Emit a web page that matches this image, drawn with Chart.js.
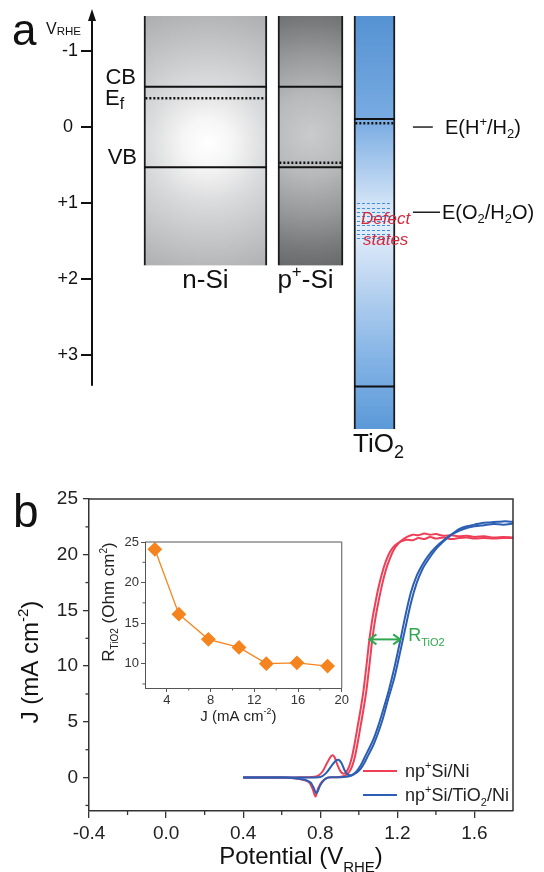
<!DOCTYPE html>
<html><head><meta charset="utf-8">
<script src="https://cdn.jsdelivr.net/npm/chart.js@4.4.1/dist/chart.umd.min.js"></script>
<style>
html,body{margin:0;padding:0;background:#fff;}
#wrap{position:relative;width:544px;height:872px;overflow:hidden;background:#fff;}
canvas{position:absolute;}
#ca{left:0;top:0;}
#cb{left:0;top:460px;}
#ci{left:90px;top:525px;}
</style></head><body>
<div id="wrap">
<canvas id="ca" width="544" height="460" style="width:544px;height:460px"></canvas>
<canvas id="cb" width="544" height="412" style="width:544px;height:412px"></canvas>
<canvas id="ci" width="260" height="205" style="width:260px;height:205px"></canvas>
</div>
<script>
// ---------------- DATA ----------------
// Panel a : band diagram (V vs RHE)
const materials = ['n-Si', 'p⁺-Si', 'TiO₂'];
const bandTop = [-1.46, -1.46, -1.46];
const bandBottom = [1.82, 1.82, 3.97];
const cbLevel = [-0.53, -0.53, -0.105];
const vbLevel = [0.53, 0.53, 3.41];
const fermiLevel = [-0.38, 0.47, -0.05];
const redoxLabels = ['E(H⁺/H₂)', 'E(O₂/H₂O)'];
const redoxLevels = [0.0, 1.12];
const defectStates = [1.0, 1.52];
const energyTicks = [-1, 0, 1, 2, 3];
const energyTickLabels = ['-1', '0 ', '+1', '+2', '+3'];
const energyAxisEnd = 3.4;

// Panel b : LSV curves
const redFwdV = [0.40,0.50,0.60,0.70,0.78,0.81,0.835,0.855,0.865,0.875,0.89,0.905,0.92,0.935,0.95,0.965,0.98,0.995,1.01,1.025,1.04,1.055,1.07,1.085,1.10,1.12,1.14,1.16,1.18,1.20,1.22,1.25,1.28,1.31,1.34,1.37,1.40,1.44,1.48,1.52,1.56,1.60,1.65,1.70,1.75,1.80];
const redFwdJ = [0,0,0,0.02,0.1,0.5,1.3,1.9,2.0,1.8,1.1,0.55,0.35,0.5,1.0,1.9,3.2,4.7,6.2,7.9,10.1,12.4,14.2,15.6,16.9,18.3,19.4,20.2,20.7,21.0,21.2,21.35,21.3,21.5,21.4,21.6,21.45,21.55,21.4,21.5,21.55,21.45,21.5,21.45,21.5,21.5];
const redRevV = [1.80,1.75,1.70,1.65,1.60,1.56,1.52,1.48,1.44,1.40,1.37,1.34,1.31,1.28,1.25,1.22,1.20,1.18,1.16,1.14,1.12,1.10,1.085,1.07,1.055,1.04,1.025,1.01,0.995,0.98,0.965,0.95,0.935,0.92,0.90,0.87,0.84,0.81,0.79,0.775,0.76,0.74,0.70,0.65,0.60,0.50,0.40];
const redRevJ = [21.55,21.6,21.55,21.65,21.6,21.7,21.65,21.75,21.7,21.85,21.8,21.9,21.75,21.8,21.6,21.25,20.9,20.4,19.6,18.6,17.25,15.6,14.2,12.4,10.1,7.9,6.2,4.7,3.2,1.9,1.0,0.5,0.25,0.12,0.06,0.03,0.0,-0.35,-0.9,-1.7,-1.0,-0.4,-0.15,-0.05,0,0,0];
const blueFwdV = [0.40,0.50,0.60,0.70,0.80,0.83,0.86,0.88,0.895,0.91,0.925,0.94,0.955,0.97,0.99,1.01,1.03,1.05,1.075,1.10,1.125,1.155,1.185,1.215,1.24,1.27,1.30,1.33,1.36,1.40,1.44,1.48,1.52,1.56,1.60,1.65,1.70,1.75,1.80];
const blueFwdJ = [0,0,0,0,0.05,0.4,1.1,1.5,1.6,1.3,0.7,0.3,0.2,0.3,0.6,1.1,1.8,2.5,3.4,4.6,6.0,7.8,9.9,12.3,14.4,16.6,18.1,19.1,19.9,20.7,21.3,21.8,22.15,22.4,22.55,22.65,22.75,22.7,22.8];
const blueRevV = [1.80,1.76,1.72,1.68,1.64,1.60,1.56,1.52,1.48,1.44,1.40,1.36,1.33,1.30,1.27,1.24,1.215,1.185,1.155,1.125,1.10,1.075,1.05,1.03,1.01,0.99,0.97,0.95,0.92,0.88,0.84,0.82,0.80,0.78,0.765,0.75,0.72,0.68,0.62,0.50,0.40];
const blueRevJ = [22.95,23.0,22.95,22.9,22.85,22.7,22.55,22.3,21.8,21.2,20.5,19.55,18.7,17.45,15.65,13.3,11.3,9.0,7.2,5.3,4.0,2.9,2.05,1.35,0.8,0.45,0.25,0.12,0.05,0.02,0,-0.2,-0.7,-1.4,-0.9,-0.45,-0.2,-0.08,0,0,0];
const seriesLabels = ['np⁺Si/Ni', 'np⁺Si/TiO₂/Ni'];
const potentialTicks = [-0.4, 0.0, 0.4, 0.8, 1.2, 1.6];
const potentialMinorTicks = [-0.2, 0.2, 0.6, 1.0, 1.4];
const currentTicks = [0, 5, 10, 15, 20, 25];
const currentMinorTicks = [-2.5, 2.5, 7.5, 12.5, 17.5, 22.5];
const rTiO2Arrow = {from: 1.055, to: 1.215, j: 12.4};

// Inset : R_TiO2 vs J
const insetJ = [2.9, 5.1, 7.8, 10.6, 13.1, 15.9, 18.7];
const insetR = [24.1, 16.1, 13.0, 12.0, 10.0, 10.1, 9.7];
const insetJTicks = [4, 8, 12, 16, 20];
const insetJMinor = [6, 10, 14, 18];
const insetRTicks = [10, 15, 20, 25];
const insetRMinor = [7.5, 12.5, 17.5, 22.5];

// ---------------- helpers ----------------
const FONT = '"Liberation Sans", Arial, Helvetica, sans-serif';
function fontStr(p){ return (p.italic ? 'italic ' : '') + p.size + 'px ' + FONT; }
function richWidth(ctx, parts){ let w = 0; for (const p of parts){ ctx.font = fontStr(p); w += ctx.measureText(p.t).width; } return w; }
function drawRich(ctx, x, y, parts, align, color){
  ctx.save();
  ctx.fillStyle = color || '#111'; ctx.textBaseline = 'alphabetic'; ctx.textAlign = 'left';
  const w = richWidth(ctx, parts);
  let cx = align === 'center' ? x - w / 2 : (align === 'right' ? x - w : x);
  for (const p of parts){ ctx.font = fontStr(p); ctx.fillText(p.t, cx, y + (p.dy || 0)); cx += ctx.measureText(p.t).width; }
  ctx.restore();
}
Chart.defaults.font.family = FONT;

// ---------------- Panel a ----------------
// layout columns (x units 0..100 across the drawing width)
const colLeft = [11.5, 41.15, 57.96];
const colRight = [38.7, 55.53, 67.04];
const redoxLineLeft = [71.0, 71.0];
const redoxLineRight = [75.4, 77.0];
const PXU_A = (544 - 92) / 100;

function boxFill(chart, i){
  const area = chart.chartArea; if (!area) return '#cccccc';
  const xs = chart.scales.x, ys = chart.scales.y, ctx = chart.ctx;
  const l = xs.getPixelForValue(colLeft[i]), r = xs.getPixelForValue(colRight[i]);
  const t = ys.getPixelForValue(bandTop[i]), b = ys.getPixelForValue(bandBottom[i]);
  let g;
  if (i === 0){
    const cx = (l + r) / 2 + 2, cy = ys.getPixelForValue(0.21);
    g = ctx.createRadialGradient(cx, cy, 0, cx, cy, 150);
    g.addColorStop(0, '#ffffff'); g.addColorStop(0.16, '#f6f6f6'); g.addColorStop(0.4, '#dadbdc');
    g.addColorStop(0.8, '#b7b9bb'); g.addColorStop(1, '#a6a8aa');
  } else if (i === 1){
    const cx = (l + r) / 2, cy = ys.getPixelForValue(0.1);
    g = ctx.createRadialGradient(cx, cy, 0, cx, cy, 135);
    g.addColorStop(0, '#cacbcc'); g.addColorStop(0.3, '#b8b9ba'); g.addColorStop(0.6, '#97989a');
    g.addColorStop(0.85, '#77787a'); g.addColorStop(1, '#68696b');
  } else {
    g = ctx.createLinearGradient(0, t, 0, b);
    g.addColorStop(0, '#5592d2'); g.addColorStop(0.25, '#78abe2'); g.addColorStop(0.5, '#e6f0fb');
    g.addColorStop(0.62, '#c4daf3'); g.addColorStop(0.82, '#86b5e6'); g.addColorStop(1, '#5b99d8');
  }
  return g;
}
const dsA = [];
materials.forEach((m, i) => {
  dsA.push({type: 'bar', label: m,
    data: [{x: (colLeft[i] + colRight[i]) / 2, y: [bandTop[i], bandBottom[i]]}],
    barThickness: (colRight[i] - colLeft[i]) * PXU_A, grouped: false,
    backgroundColor: c => boxFill(c.chart, i), borderColor: '#1a1a1a',
    borderWidth: {left: 2, right: 2, top: 0, bottom: 0}, borderSkipped: false, order: 3, clip: false});
});
function levelLine(x0, x1, v, dash, w, col){
  return {type: 'line', data: [{x: x0, y: v}, {x: x1, y: v}], borderColor: col || '#111', borderWidth: w,
    borderDash: dash, pointRadius: 0, order: 1, clip: false, fill: false, tension: 0};
}
materials.forEach((m, i) => {
  dsA.push(levelLine(colLeft[i], colRight[i], cbLevel[i], [], 2));
  dsA.push(levelLine(colLeft[i], colRight[i], vbLevel[i], [], 2));
  dsA.push(levelLine(colLeft[i] + 0.3, colRight[i] - 0.3, fermiLevel[i], [2, 2], 2.5));
});
redoxLevels.forEach((v, i) => dsA.push(levelLine(redoxLineLeft[i], redoxLineRight[i], v, [], 1.5, '#222')));

const pluginA = {
  id: 'panelA',
  afterDatasetsDraw(chart){
    const ctx = chart.ctx, xs = chart.scales.x, ys = chart.scales.y;
    const l = xs.getPixelForValue(colLeft[2]) + 3, r = xs.getPixelForValue(colRight[2]) - 3;
    ctx.save(); ctx.strokeStyle = '#3f8fd8'; ctx.lineWidth = 1; ctx.setLineDash([3, 2]);
    for (let v = defectStates[0]; v <= defectStates[1] + 1e-6; v += 0.058){
      const y = Math.round(ys.getPixelForValue(v)) + 0.5;
      ctx.beginPath(); ctx.moveTo(l, y); ctx.lineTo(r, y); ctx.stroke();
    }
    ctx.restore();
  },
  afterDraw(chart){
    const ctx = chart.ctx, xs = chart.scales.x, ys = chart.scales.y, a = chart.chartArea;
    // vertical axis with arrow
    ctx.save(); ctx.strokeStyle = '#111'; ctx.fillStyle = '#111'; ctx.lineWidth = 2;
    const ax = a.left;
    ctx.beginPath(); ctx.moveTo(ax, ys.getPixelForValue(energyAxisEnd)); ctx.lineTo(ax, a.top - 2); ctx.stroke();
    ctx.beginPath(); ctx.moveTo(ax, a.top - 7); ctx.lineTo(ax - 4, a.top + 5); ctx.lineTo(ax + 4, a.top + 5); ctx.closePath(); ctx.fill();
    ctx.restore();
    drawRich(ctx, 12, 45, [{t: 'a', size: 44}]);
    drawRich(ctx, 46, 34, [{t: 'V', size: 16}, {t: 'RHE', size: 11.5, dy: 1}]);
    const nl = xs.getPixelForValue(colLeft[0]);
    drawRich(ctx, nl - 8, ys.getPixelForValue(cbLevel[0]) - 3, [{t: 'CB', size: 22}], 'right');
    drawRich(ctx, 105, ys.getPixelForValue(fermiLevel[0]) + 7, [{t: 'E', size: 22}, {t: 'f', size: 16, dy: 4}]);
    drawRich(ctx, nl - 7, ys.getPixelForValue(vbLevel[0]) - 3, [{t: 'VB', size: 22}], 'right');
    const bl = ys.getPixelForValue(bandBottom[0]);
    drawRich(ctx, (xs.getPixelForValue(colLeft[0]) + xs.getPixelForValue(colRight[0])) / 2, bl + 23, [{t: 'n-Si', size: 26}], 'center');
    drawRich(ctx, (xs.getPixelForValue(colLeft[1]) + xs.getPixelForValue(colRight[1])) / 2 - 5, bl + 23,
      [{t: 'p', size: 26}, {t: '+', size: 17, dy: -11}, {t: '-Si', size: 26}], 'center');
    drawRich(ctx, (xs.getPixelForValue(colLeft[2]) + xs.getPixelForValue(colRight[2])) / 2 + 4, ys.getPixelForValue(bandBottom[2]) + 23,
      [{t: 'TiO', size: 26}, {t: '2', size: 18, dy: 6}], 'center');
    drawRich(ctx, 445, ys.getPixelForValue(redoxLevels[0]) + 7,
      [{t: 'E(H', size: 20}, {t: '+', size: 13, dy: -8}, {t: '/H', size: 20}, {t: '2', size: 13, dy: 4}, {t: ')', size: 20}]);
    drawRich(ctx, 442, ys.getPixelForValue(redoxLevels[1]) + 7,
      [{t: 'E(O', size: 20}, {t: '2', size: 13, dy: 4}, {t: '/H', size: 20}, {t: '2', size: 13, dy: 4}, {t: 'O)', size: 20}]);
    drawRich(ctx, 361, 224, [{t: 'Defect', size: 17, italic: true}], 'left', '#d22a3c');
    drawRich(ctx, 363, 245, [{t: 'states', size: 17, italic: true}], 'left', '#d22a3c');
  }
};

new Chart(document.getElementById('ca'), {
  type: 'bar',
  data: {datasets: dsA},
  options: {
    responsive: false, animation: false, devicePixelRatio: 1,
    layout: {padding: {top: 16, bottom: 31, left: 0, right: 0}},
    plugins: {legend: {display: false}, tooltip: {enabled: false}},
    scales: {
      x: {type: 'linear', min: 0, max: 100, display: false, offset: false, grid: {offset: false}},
      y: {type: 'linear', reverse: true, min: -1.46, max: 3.97, position: 'left',
        afterFit(s){ s.width = 92; },
        afterBuildTicks(s){ s.ticks = energyTicks.map(v => ({value: v})); },
        ticks: {callback: v => { const k = energyTicks.indexOf(v); return k >= 0 ? energyTickLabels[k] : ''; },
          font: {family: FONT, size: 18}, color: '#111', padding: 3, autoSkip: false, maxRotation: 0},
        grid: {display: true, drawOnChartArea: false, drawTicks: true, tickLength: 11, color: '#111', lineWidth: 2},
        border: {display: false}}
    }
  },
  plugins: [pluginA]
});

// ---------------- Panel b ----------------
const RED = '#ee3f57', BLUE = '#2c5fb3';
function curve(V, J, color, label, order){
  return {label, data: V.map((v, k) => ({x: v, y: J[k]})), showLine: true, borderColor: color, backgroundColor: color,
    borderWidth: 2, pointRadius: 0, tension: 0.3, order};
}
const dsB = [
  curve(redFwdV, redFwdJ, RED, seriesLabels[0], 2),
  curve(redRevV, redRevJ, RED, seriesLabels[0], 2),
  curve(blueFwdV, blueFwdJ, BLUE, seriesLabels[1], 1),
  curve(blueRevV, blueRevJ, BLUE, seriesLabels[1], 1)
];
const GREEN = '#2fa84f';
const pluginB = {
  id: 'panelB',
  afterDraw(chart){
    const ctx = chart.ctx, xs = chart.scales.x, ys = chart.scales.y, a = chart.chartArea;
    ctx.save();
    ctx.strokeStyle = '#333'; ctx.lineWidth = 1.5;
    ctx.beginPath(); ctx.moveTo(a.left, a.top); ctx.lineTo(a.right, a.top); ctx.lineTo(a.right, a.bottom); ctx.stroke();
    ctx.lineWidth = 1.3;
    potentialMinorTicks.forEach(v => { const x = xs.getPixelForValue(v); ctx.beginPath(); ctx.moveTo(x, a.bottom); ctx.lineTo(x, a.bottom + 4); ctx.stroke(); });
    currentMinorTicks.forEach(v => { const y = ys.getPixelForValue(v); ctx.beginPath(); ctx.moveTo(a.left, y); ctx.lineTo(a.left - 3.5, y); ctx.stroke(); });
    // legend
    const lx0 = a.right - 150, lx1 = a.right - 116, ly = [a.bottom - 40, a.bottom - 16];
    [[0, [{t: 'np', size: 18}, {t: '+', size: 11, dy: -8}, {t: 'Si/Ni', size: 18}]],
     [2, [{t: 'np', size: 18}, {t: '+', size: 11, dy: -8}, {t: 'Si/TiO', size: 18}, {t: '2', size: 11, dy: 5}, {t: '/Ni', size: 18}]]]
      .forEach(([di, parts], k) => {
        ctx.strokeStyle = chart.data.datasets[di].borderColor; ctx.lineWidth = 2;
        ctx.beginPath(); ctx.moveTo(lx0, ly[k]); ctx.lineTo(lx1, ly[k]); ctx.stroke();
        drawRich(ctx, lx1 + 8, ly[k] + 6, parts, 'left', '#222');
      });
    // R_TiO2 double arrow
    const x0 = xs.getPixelForValue(rTiO2Arrow.from), x1 = xs.getPixelForValue(rTiO2Arrow.to), y = ys.getPixelForValue(rTiO2Arrow.j);
    ctx.strokeStyle = GREEN; ctx.lineWidth = 2;
    ctx.beginPath(); ctx.moveTo(x0, y); ctx.lineTo(x1, y); ctx.stroke();
    ctx.beginPath(); ctx.moveTo(x0 + 7, y - 5); ctx.lineTo(x0, y); ctx.lineTo(x0 + 7, y + 5); ctx.stroke();
    ctx.beginPath(); ctx.moveTo(x1 - 7, y - 5); ctx.lineTo(x1, y); ctx.lineTo(x1 - 7, y + 5); ctx.stroke();
    drawRich(ctx, x1 + 8, y + 2, [{t: 'R', size: 18}, {t: 'TiO2', size: 11, dy: 5}], 'left', GREEN);
    ctx.restore();
    // titles
    drawRich(ctx, 13, 67, [{t: 'b', size: 46}]);
    drawRich(ctx, (a.left + a.right) / 2, 404, [{t: 'Potential (V', size: 24}, {t: 'RHE', size: 15, dy: 8}, {t: ')', size: 24}], 'center');
    ctx.save(); ctx.translate(38, 202); ctx.rotate(-Math.PI / 2);
    drawRich(ctx, 0, 0, [{t: 'J (mA cm', size: 24}, {t: '-2', size: 15, dy: -10}, {t: ')', size: 24}], 'center');
    ctx.restore();
  }
};
new Chart(document.getElementById('cb'), {
  type: 'scatter',
  data: {datasets: dsB},
  options: {
    responsive: false, animation: false, devicePixelRatio: 1,
    layout: {padding: {top: 39, right: 31, left: 0, bottom: 0}},
    plugins: {legend: {display: false}, tooltip: {enabled: false}},
    scales: {
      x: {type: 'linear', min: -0.4, max: 1.8,
        afterFit(s){ s.height = 61; },
        afterBuildTicks(s){ s.ticks = potentialTicks.map(v => ({value: v})); },
        ticks: {callback: v => Number(v).toFixed(1), font: {family: FONT, size: 19}, color: '#222', padding: 4, maxRotation: 0, autoSkip: false},
        grid: {drawOnChartArea: false, tickLength: 7, color: '#333', lineWidth: 1.3},
        border: {color: '#333', width: 1.5}},
      y: {type: 'linear', min: -3, max: 25,
        afterFit(s){ s.width = 89; },
        afterBuildTicks(s){ s.ticks = currentTicks.map(v => ({value: v})); },
        ticks: {callback: v => String(v), font: {family: FONT, size: 19}, color: '#222', padding: 5, autoSkip: false},
        grid: {drawOnChartArea: false, tickLength: 6, color: '#333', lineWidth: 1.3},
        border: {color: '#333', width: 1.5}}
    }
  },
  plugins: [pluginB]
});

// ---------------- Inset ----------------
const ORANGE = '#f5841f';
const pluginI = {
  id: 'inset',
  afterDraw(chart){
    const ctx = chart.ctx, xs = chart.scales.x, ys = chart.scales.y, a = chart.chartArea;
    ctx.save(); ctx.strokeStyle = '#555'; ctx.lineWidth = 1;
    ctx.beginPath(); ctx.moveTo(a.left, a.top); ctx.lineTo(a.right, a.top); ctx.lineTo(a.right, a.bottom); ctx.stroke();
    insetJMinor.forEach(v => { const x = xs.getPixelForValue(v); ctx.beginPath(); ctx.moveTo(x, a.bottom); ctx.lineTo(x, a.bottom + 2.5); ctx.stroke(); });
    insetRMinor.forEach(v => { const y = ys.getPixelForValue(v); ctx.beginPath(); ctx.moveTo(a.left, y); ctx.lineTo(a.left - 2.5, y); ctx.stroke(); });
    ctx.restore();
    drawRich(ctx, (a.left + a.right) / 2 - 5, 196, [{t: 'J (mA cm', size: 15}, {t: '-2', size: 9, dy: -7}, {t: ')', size: 15}], 'center', '#222');
    ctx.save(); ctx.translate(24, 77); ctx.rotate(-Math.PI / 2);
    drawRich(ctx, 0, 0, [{t: 'R', size: 17}, {t: 'TiO2', size: 10, dy: 4}, {t: ' (Ohm cm', size: 17}, {t: '2', size: 10, dy: -7}, {t: ')', size: 17}], 'center', '#222');
    ctx.restore();
  }
};
new Chart(document.getElementById('ci'), {
  type: 'scatter',
  data: {datasets: [{label: 'R_TiO2', data: insetJ.map((j, k) => ({x: j, y: insetR[k]})), showLine: true,
    borderColor: ORANGE, borderWidth: 1.3, backgroundColor: ORANGE, pointBackgroundColor: ORANGE, pointBorderColor: ORANGE,
    pointStyle: 'rectRot', pointRadius: 6.5, tension: 0, clip: false}]},
  options: {
    responsive: false, animation: false, devicePixelRatio: 1,
    layout: {padding: {top: 17, right: 7, left: 0, bottom: 0}},
    plugins: {legend: {display: false}, tooltip: {enabled: false}},
    scales: {
      x: {type: 'linear', min: 2, max: 20,
        afterFit(s){ s.height = 42; },
        afterBuildTicks(s){ s.ticks = insetJTicks.map(v => ({value: v})); },
        ticks: {font: {family: FONT, size: 13}, color: '#333', padding: 1, maxRotation: 0, autoSkip: false},
        grid: {drawOnChartArea: false, tickLength: 4, color: '#555'},
        border: {color: '#555', width: 1}},
      y: {type: 'linear', min: 7, max: 25,
        afterFit(s){ s.width = 55; },
        afterBuildTicks(s){ s.ticks = insetRTicks.map(v => ({value: v})); },
        ticks: {font: {family: FONT, size: 13}, color: '#333', padding: 2, autoSkip: false},
        grid: {drawOnChartArea: false, tickLength: 4, color: '#555'},
        border: {color: '#555', width: 1}}
    }
  },
  plugins: [pluginI]
});
</script>
</body></html>
